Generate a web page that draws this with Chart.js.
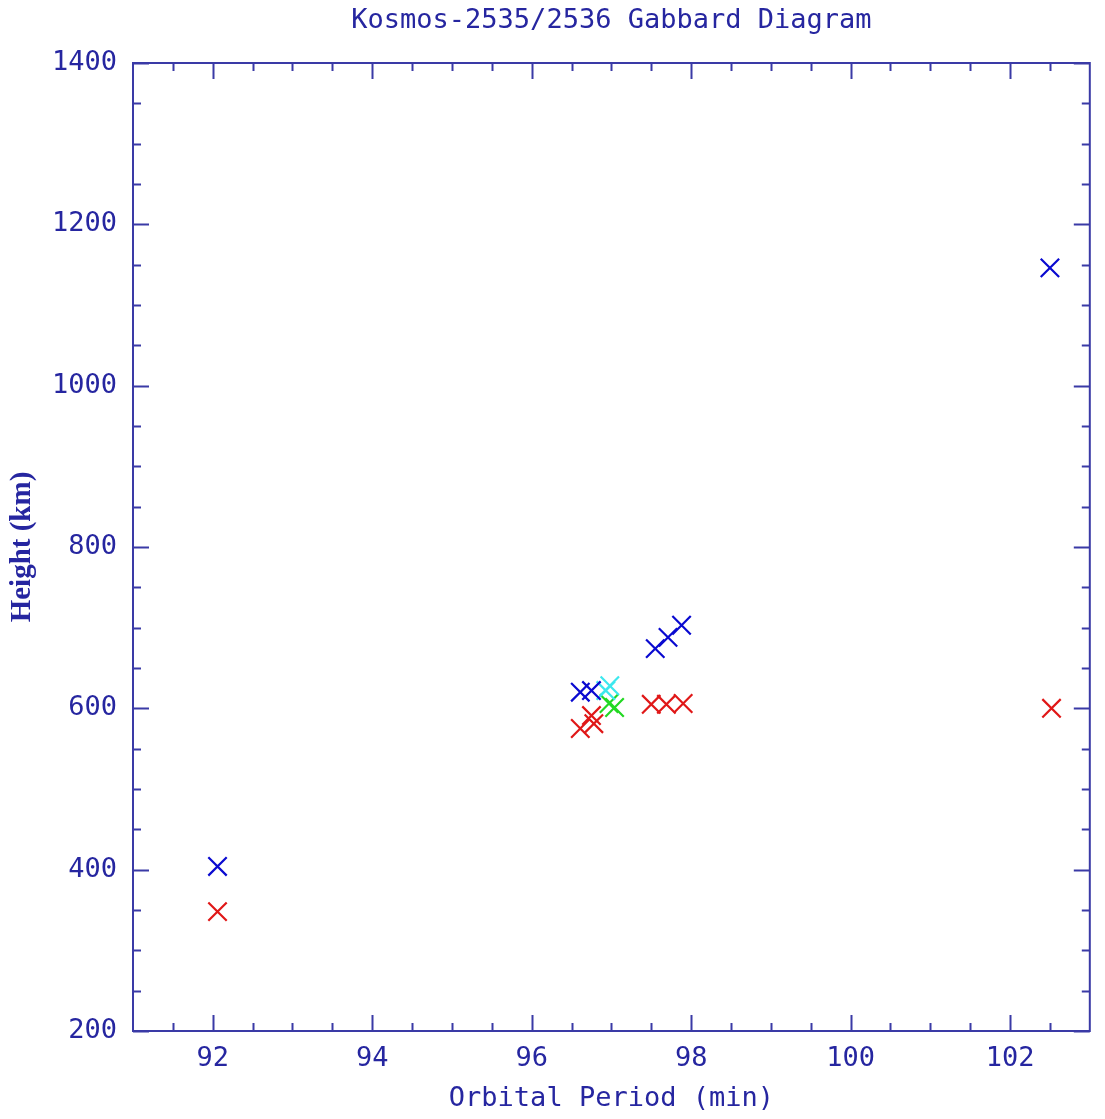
<!DOCTYPE html>
<html>
<head>
<meta charset="utf-8">
<title>Kosmos-2535/2536 Gabbard Diagram</title>
<script src="https://cdn.jsdelivr.net/npm/chart.js@4/dist/chart.umd.min.js"></script>
<style>
    html, body { margin: 0; padding: 0; background: #ffffff; }
    #wrap { width: 1105px; height: 1119px; }
</style>
</head>
<body>
<div id="wrap"><canvas id="gabbard"></canvas></div>
<script>
// Data
const apogeeX = [92.06, 96.61, 96.75, 97.55, 97.71, 97.88, 102.50];
const apogeeY = [404, 620, 622, 674, 688, 703, 1146];
const perigeeX = [92.06, 96.61, 96.75, 96.78, 97.50, 97.69, 97.90, 102.52];
const perigeeY = [348, 575, 591, 581, 605, 605, 606, 600];
const cyanX = [96.93, 96.98];
const cyanY = [622, 628];
const greenX = [96.97, 97.04];
const greenY = [606, 601];

const xTicks = [92, 94, 96, 98, 100, 102];
const yTicks = [200, 400, 600, 800, 1000, 1200, 1400];
const xMinor = [91.5, 92.5, 93, 93.5, 94.5, 95, 95.5, 96.5, 97, 97.5, 98.5, 99, 99.5, 100.5, 101, 101.5, 102.5];
const yMinor = [250, 300, 350, 450, 500, 550, 650, 700, 750, 850, 900, 950, 1050, 1100, 1150, 1250, 1300, 1350];

const titleText = "Kosmos-2535/2536 Gabbard Diagram";
const xTitle = "Orbital Period (min)";
const yTitle = "Height (km)";

const ink = "#2626a0";
const frame = "#3a3aa6";
const mono = "'DejaVu Sans Mono', 'Liberation Mono', monospace";

function pts(xs, ys) {
    return xs.map(function (x, i) { return { x: x, y: ys[i] }; });
}

function series(label, xs, ys, color) {
    return {
        label: label,
        data: pts(xs, ys),
        pointStyle: 'crossRot',
        pointRadius: 13,
        pointHoverRadius: 13,
        borderColor: color,
        backgroundColor: color,
        borderWidth: 2.2,
        showLine: false
    };
}

// frame, inward ticks on all four sides, and the title
const framePlugin = {
    id: 'frame',
    afterDraw: function (chart) {
        const c = chart.ctx;
        const a = chart.chartArea;
        const sx = chart.scales.x;
        const sy = chart.scales.y;
        c.save();
        c.strokeStyle = frame;
        c.lineWidth = 2;
        c.strokeRect(a.left, a.top, a.right - a.left, a.bottom - a.top);

        function tickX(v, len) {
            const p = Math.round(sx.getPixelForValue(v)) + 0.5;
            c.beginPath();
            c.moveTo(p, a.bottom); c.lineTo(p, a.bottom - len);
            c.moveTo(p, a.top); c.lineTo(p, a.top + len);
            c.stroke();
        }
        function tickY(v, len) {
            const p = Math.round(sy.getPixelForValue(v)) + 0.5;
            c.beginPath();
            c.moveTo(a.left, p); c.lineTo(a.left + len, p);
            c.moveTo(a.right, p); c.lineTo(a.right - len, p);
            c.stroke();
        }
        c.lineWidth = 2;
        xTicks.forEach(function (v) { tickX(v, 16); });
        xMinor.forEach(function (v) { tickX(v, 8); });
        yTicks.forEach(function (v) { tickY(v, 16); });
        yMinor.forEach(function (v) { tickY(v, 8); });

        c.fillStyle = ink;
        c.font = "27px " + mono;
        c.textAlign = "center";
        c.textBaseline = "middle";
        c.fillText(titleText, (a.left + a.right) / 2, 21);
        c.restore();
    }
};

const ctx = document.getElementById("gabbard");

const gabbard = new Chart(ctx, {
    type: 'scatter',
    data: {
        datasets: [
            series('Apogee', apogeeX, apogeeY, '#0a0ad0'),
            series('Perigee', perigeeX, perigeeY, '#e01818'),
            series('Apogee 2', cyanX, cyanY, '#3ce8ee'),
            series('Perigee 2', greenX, greenY, '#22d822')
        ]
    },
    options: {
        responsive: true,
        maintainAspectRatio: false,
        animation: false,
        layout: { padding: { top: 63, right: 8, bottom: 0, left: 0 } },
        plugins: {
            legend: { display: false },
            tooltip: { enabled: false }
        },
        scales: {
            x: {
                type: 'linear',
                min: 91,
                max: 103,
                grid: { display: false, drawTicks: false },
                border: { display: false },
                afterBuildTicks: function (s) { s.ticks = xTicks.map(function (v) { return { value: v }; }); },
                afterFit: function (s) { s.height = 88; },
                ticks: {
                    color: ink,
                    font: { family: mono, size: 27 },
                    padding: 12,
                    maxRotation: 0,
                    callback: function (v) { return String(v); }
                },
                title: {
                    display: true,
                    text: xTitle,
                    color: ink,
                    font: { family: mono, size: 27 },
                    padding: { top: 0, bottom: 4 }
                }
            },
            y: {
                type: 'linear',
                min: 200,
                max: 1400,
                grid: { display: false, drawTicks: false },
                border: { display: false },
                afterBuildTicks: function (s) { s.ticks = yTicks.map(function (v) { return { value: v }; }); },
                afterFit: function (s) { s.width = 133; },
                ticks: {
                    color: ink,
                    font: { family: mono, size: 27 },
                    padding: 16,
                    callback: function (v) { return String(v); }
                },
                title: {
                    display: true,
                    text: yTitle,
                    color: ink,
                    font: { family: "'Liberation Serif', 'DejaVu Serif', serif", size: 29, weight: 'bold' },
                    padding: { top: 5, bottom: 0 }
                }
            }
        }
    },
    plugins: [framePlugin]
});
</script>
</body>
</html>
